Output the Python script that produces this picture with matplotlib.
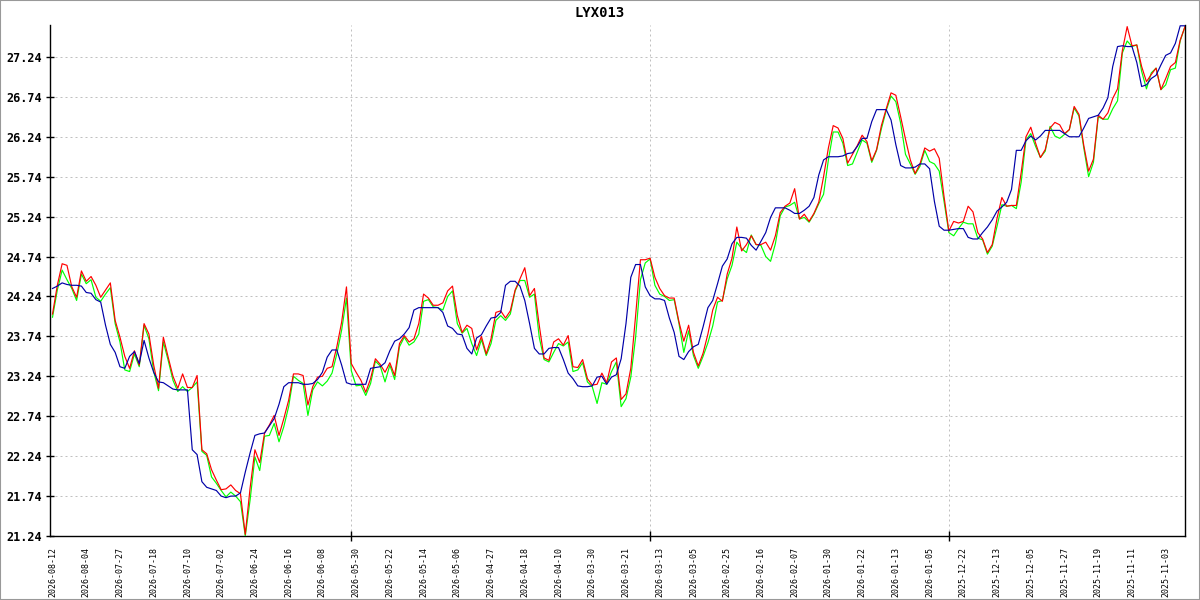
import numpy as np
import matplotlib
matplotlib.use("Agg")
import matplotlib.pyplot as plt
from matplotlib.patches import Rectangle

title = "LYX013"

date_labels = ['2026-08-12','2026-08-04','2026-07-27','2026-07-18','2026-07-10','2026-07-02',
               '2026-06-24','2026-06-16','2026-06-08','2026-05-30','2026-05-22','2026-05-14',
               '2026-05-06','2026-04-27','2026-04-18','2026-04-10','2026-03-30','2026-03-21',
               '2026-03-13','2026-03-05','2026-02-25','2026-02-16','2026-02-07','2026-01-30',
               '2026-01-22','2026-01-13','2026-01-05','2025-12-22','2025-12-13','2025-12-05',
               '2025-11-27','2025-11-19','2025-11-11','2025-11-03']
label_step = 7
major_ticks = [62, 124, 186]
y_ticks = [21.24, 21.74, 22.24, 22.74, 23.24, 23.74, 24.24, 24.74, 25.24, 25.74, 26.24, 26.74, 27.24]
y_min, y_max = 21.24, 27.64

red = [24.02,24.38,24.65,24.63,24.36,24.23,24.56,24.43,24.49,24.38,24.23,24.32,24.41,23.94,23.73,23.49,
       23.34,23.56,23.38,23.90,23.77,23.38,23.09,23.73,23.48,23.24,23.09,23.27,23.10,23.10,23.25,22.32,
       22.27,22.07,21.94,21.82,21.83,21.88,21.81,21.77,21.26,21.84,22.32,22.16,22.53,22.63,22.75,22.50,
       22.71,22.94,23.27,23.27,23.25,22.88,23.11,23.23,23.24,23.34,23.36,23.61,23.92,24.36,23.40,23.29,
       23.19,23.04,23.21,23.46,23.39,23.29,23.41,23.25,23.65,23.75,23.67,23.71,23.90,24.27,24.22,24.13,
       24.13,24.16,24.31,24.37,24.00,23.79,23.88,23.84,23.57,23.74,23.52,23.71,24.04,24.06,23.97,24.06,
       24.32,24.46,24.60,24.25,24.34,23.88,23.47,23.44,23.67,23.71,23.63,23.75,23.36,23.35,23.45,23.21,
       23.13,23.14,23.28,23.16,23.42,23.47,22.95,23.02,23.34,24.00,24.70,24.70,24.72,24.48,24.34,24.25,
       24.22,24.22,23.92,23.68,23.88,23.54,23.37,23.53,23.77,24.07,24.23,24.18,24.52,24.72,25.11,24.81,
       24.89,25.00,24.89,24.89,24.92,24.82,25.00,25.29,25.37,25.41,25.59,25.21,25.27,25.18,25.28,25.42,
       25.74,26.10,26.38,26.35,26.22,25.91,26.02,26.13,26.26,26.18,25.94,26.08,26.38,26.59,26.79,26.76,
       26.49,26.21,25.95,25.78,25.90,26.10,26.06,26.09,25.97,25.49,25.06,25.18,25.16,25.18,25.37,25.30,
       25.04,24.96,24.79,24.89,25.22,25.48,25.37,25.38,25.38,25.79,26.24,26.36,26.16,25.98,26.08,26.35,
       26.42,26.39,26.28,26.33,26.62,26.52,26.13,25.81,25.96,26.51,26.46,26.54,26.72,26.84,27.32,27.62,
       27.38,27.39,27.12,26.93,27.02,27.10,26.83,26.97,27.12,27.17,27.45,27.62]

green = [23.98,24.32,24.57,24.45,24.34,24.19,24.52,24.40,24.45,24.23,24.18,24.27,24.35,23.90,23.67,23.32,
         23.30,23.52,23.36,23.88,23.71,23.30,23.06,23.67,23.44,23.19,23.05,23.11,23.05,23.10,23.17,22.30,
         22.25,21.98,21.90,21.81,21.73,21.79,21.74,21.67,21.24,21.69,22.23,22.06,22.49,22.50,22.65,22.42,
         22.61,22.86,23.24,23.19,23.15,22.75,23.07,23.17,23.12,23.18,23.28,23.52,23.82,24.22,23.31,23.12,
         23.13,23.00,23.15,23.43,23.37,23.17,23.38,23.20,23.61,23.73,23.63,23.67,23.77,24.18,24.20,24.11,
         24.10,24.07,24.24,24.31,23.90,23.78,23.84,23.65,23.50,23.70,23.50,23.65,23.94,24.00,23.94,24.02,
         24.31,24.44,24.44,24.23,24.27,23.73,23.45,23.42,23.54,23.65,23.62,23.67,23.30,23.32,23.41,23.17,
         23.11,22.90,23.16,23.14,23.30,23.42,22.86,22.96,23.23,23.73,24.45,24.66,24.71,24.38,24.27,24.24,
         24.19,24.20,23.90,23.54,23.81,23.50,23.34,23.49,23.66,23.87,24.17,24.19,24.46,24.63,24.92,24.84,
         24.79,25.01,24.89,24.88,24.74,24.68,24.90,25.25,25.36,25.38,25.42,25.21,25.23,25.17,25.27,25.40,
         25.52,25.95,26.30,26.30,26.16,25.88,25.90,26.05,26.20,26.16,25.92,26.07,26.34,26.57,26.75,26.68,
         26.41,26.02,25.90,25.77,25.87,26.07,25.93,25.90,25.81,25.43,25.04,25.00,25.09,25.17,25.15,25.15,
         24.97,24.95,24.77,24.87,25.12,25.39,25.37,25.38,25.34,25.67,26.20,26.28,26.12,25.98,26.06,26.37,
         26.25,26.22,26.27,26.33,26.60,26.50,26.10,25.74,25.92,26.49,26.46,26.46,26.59,26.69,27.29,27.44,
         27.37,27.39,27.06,26.84,27.04,27.10,26.83,26.89,27.08,27.10,27.44,27.62]

blue = [24.34,24.37,24.41,24.39,24.38,24.38,24.37,24.29,24.28,24.20,24.17,23.88,23.64,23.54,23.36,23.34,
        23.49,23.55,23.40,23.69,23.47,23.29,23.17,23.16,23.12,23.08,23.07,23.07,23.07,22.32,22.26,21.92,
        21.85,21.83,21.81,21.74,21.72,21.74,21.74,21.78,22.04,22.28,22.50,22.52,22.53,22.62,22.71,22.89,
        23.11,23.16,23.16,23.16,23.14,23.14,23.15,23.20,23.29,23.48,23.57,23.57,23.38,23.16,23.14,23.14,
        23.14,23.14,23.34,23.35,23.36,23.41,23.56,23.68,23.71,23.77,23.85,24.07,24.10,24.10,24.10,24.10,
        24.10,24.04,23.87,23.84,23.77,23.76,23.59,23.52,23.72,23.76,23.87,23.97,23.98,24.04,24.38,24.43,
        24.43,24.37,24.19,23.90,23.59,23.52,23.52,23.59,23.60,23.60,23.45,23.28,23.21,23.12,23.11,23.11,
        23.12,23.23,23.24,23.14,23.23,23.26,23.46,23.90,24.48,24.64,24.64,24.36,24.25,24.21,24.21,24.19,
        23.97,23.79,23.49,23.45,23.55,23.61,23.64,23.86,24.10,24.19,24.40,24.62,24.71,24.90,24.98,24.98,
        24.97,24.88,24.82,24.93,25.04,25.23,25.35,25.35,25.35,25.32,25.28,25.28,25.32,25.37,25.48,25.76,
        25.95,25.99,25.99,25.99,26.00,26.03,26.04,26.12,26.22,26.22,26.43,26.58,26.58,26.58,26.45,26.14,
        25.88,25.85,25.85,25.86,25.90,25.90,25.84,25.43,25.12,25.07,25.07,25.08,25.09,25.09,24.98,24.96,
        24.96,25.04,25.11,25.20,25.31,25.36,25.42,25.58,26.07,26.07,26.19,26.25,26.20,26.25,26.32,26.32,
        26.32,26.32,26.28,26.24,26.24,26.24,26.35,26.47,26.49,26.51,26.60,26.73,27.12,27.37,27.38,27.37,
        27.37,27.17,26.87,26.89,26.97,27.01,27.14,27.26,27.29,27.41,27.63,27.63]

n = len(red)
x = np.arange(n)

fig = plt.figure(figsize=(12, 6), dpi=100)
fig.patch.set_facecolor('white')
ax = fig.add_axes([50/1200, 1 - 536/600, 1135/1200, (536 - 25)/600])

ax.plot(x, green, color='#00ff00', lw=0.85, zorder=3)
ax.plot(x, red, color='#ff0000', lw=0.85, zorder=4)
ax.plot(x, blue, color='#0000a8', lw=0.85, zorder=5)

ax.set_xlim(-0.52, n - 1)
ax.set_ylim(y_min, y_max)

ax.spines['top'].set_visible(False)
for s in ['left', 'bottom', 'right']:
    ax.spines[s].set_color('black')
    ax.spines[s].set_linewidth(1.0)

mono = 'DejaVu Sans Mono'
ax.set_yticks(y_ticks)
ax.set_yticklabels([f"{v:.2f}" for v in y_ticks], fontfamily=mono, fontweight='bold', fontsize=8.5)
ax.tick_params(axis='y', direction='inout', length=6, width=1, pad=3, colors='black')

ax.set_xticks(major_ticks)
ax.set_xticklabels([])
ax.tick_params(axis='x', which='major', direction='inout', length=7, width=1)
label_pos = list(range(0, label_step * len(date_labels), label_step))
ax.set_xticks(label_pos, minor=True)
ax.set_xticklabels(date_labels, minor=True, rotation=90, fontfamily=mono, fontsize=6,
                   va='top', ha='center')
ax.tick_params(axis='x', which='minor', length=0, pad=8)
ax.tick_params(axis='y', which='minor', length=0)

ax.grid(True, which='major', axis='both', color='#c0c0c0', linestyle=(0, (2, 3)), linewidth=0.72)
ax.set_axisbelow(True)

fig.text(0.5, 1 - 13/600, title, ha='center', va='center', fontfamily=mono,
         fontweight='bold', fontsize=10)

fig.patches.append(Rectangle((0, 0), 1, 1, transform=fig.transFigure, fill=False,
                             edgecolor='#999999', linewidth=1.5))

fig.savefig('out.png', dpi=100, facecolor='white')
